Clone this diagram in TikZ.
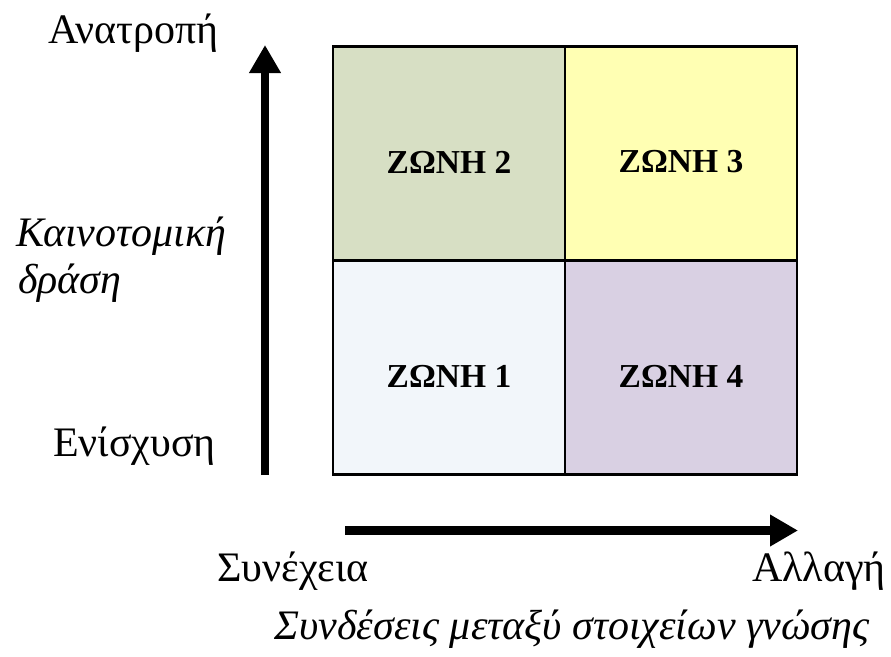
\documentclass[tikz,border=0pt]{standalone}
\usepackage{fontspec}
\setmainfont{Liberation Serif}
\usetikzlibrary{arrows.meta}
\definecolor{ztwo}{HTML}{D7DFC4}
\definecolor{zthree}{HTML}{FFFFB3}
\definecolor{zone}{HTML}{F2F6FA}
\definecolor{zfour}{HTML}{D9D0E3}
\tikzset{
  zonebox/.style={draw=black, line width=2.8pt, minimum width=232pt, minimum height=214pt, inner sep=0pt},
  zonelabel/.style={inner sep=0pt, font=\fontsize{33.5}{38}\selectfont\bfseries},
  axislabel/.style={inner sep=0pt, anchor=base west, font=\fontsize{42}{48}\selectfont},
  axistitle/.style={inner sep=0pt, anchor=base west, font=\fontsize{42}{48}\selectfont\itshape},
  bigarrow/.style={line width=8.5pt, -{Triangle[width=30pt,length=28pt]}}
}
\begin{document}
\begin{tikzpicture}[x=1pt,y=-1pt]
\useasboundingbox (0,0) rectangle (891,656);
\node[zonebox, fill=ztwo]   (z2) at (449,153.5) {};
\node[zonebox, fill=zthree] (z3) at (681,153.5) {};
\node[zonebox, fill=zone]   (z1) at (449,367.5) {};
\node[zonebox, fill=zfour]  (z4) at (681,367.5) {};
\node[zonelabel] (l2) at ([yshift=-8.5pt]z2.center) {ΖΩΝΗ 2};
\node[zonelabel] (l3) at ([yshift=-8.5pt]z3.center) {ΖΩΝΗ 3};
\node[zonelabel] (l1) at ([yshift=-8.5pt]z1.center) {ΖΩΝΗ 1};
\node[zonelabel] (l4) at ([yshift=-8.5pt]z4.center) {ΖΩΝΗ 4};
\coordinate (vb) at (265,475);
\coordinate (vt) at (265,45);
\coordinate (hl) at (345,530.5);
\coordinate (hr) at (798,530.5);
\draw[bigarrow] (vb) -- (vt);
\draw[bigarrow] (hl) -- (hr);
\node[axislabel] (top) at (48,43.3) {Ανατροπή};
\node[axistitle] (ka) at (16,246.7) {Καινοτομική};
\node[axistitle] (dr) at (18,293) {δράση};
\node[axislabel] (en) at (53,456.7) {Ενίσχυση};
\node[axislabel] (sy) at (217,581.7) {Συνέχεια};
\node[axislabel, anchor=base east] (al) at (886,581.7) {Αλλαγή};
\node[axistitle, anchor=base] (sd) at (572,639) {Συνδέσεις μεταξύ στοιχείων γνώσης};
\end{tikzpicture}
\end{document}
